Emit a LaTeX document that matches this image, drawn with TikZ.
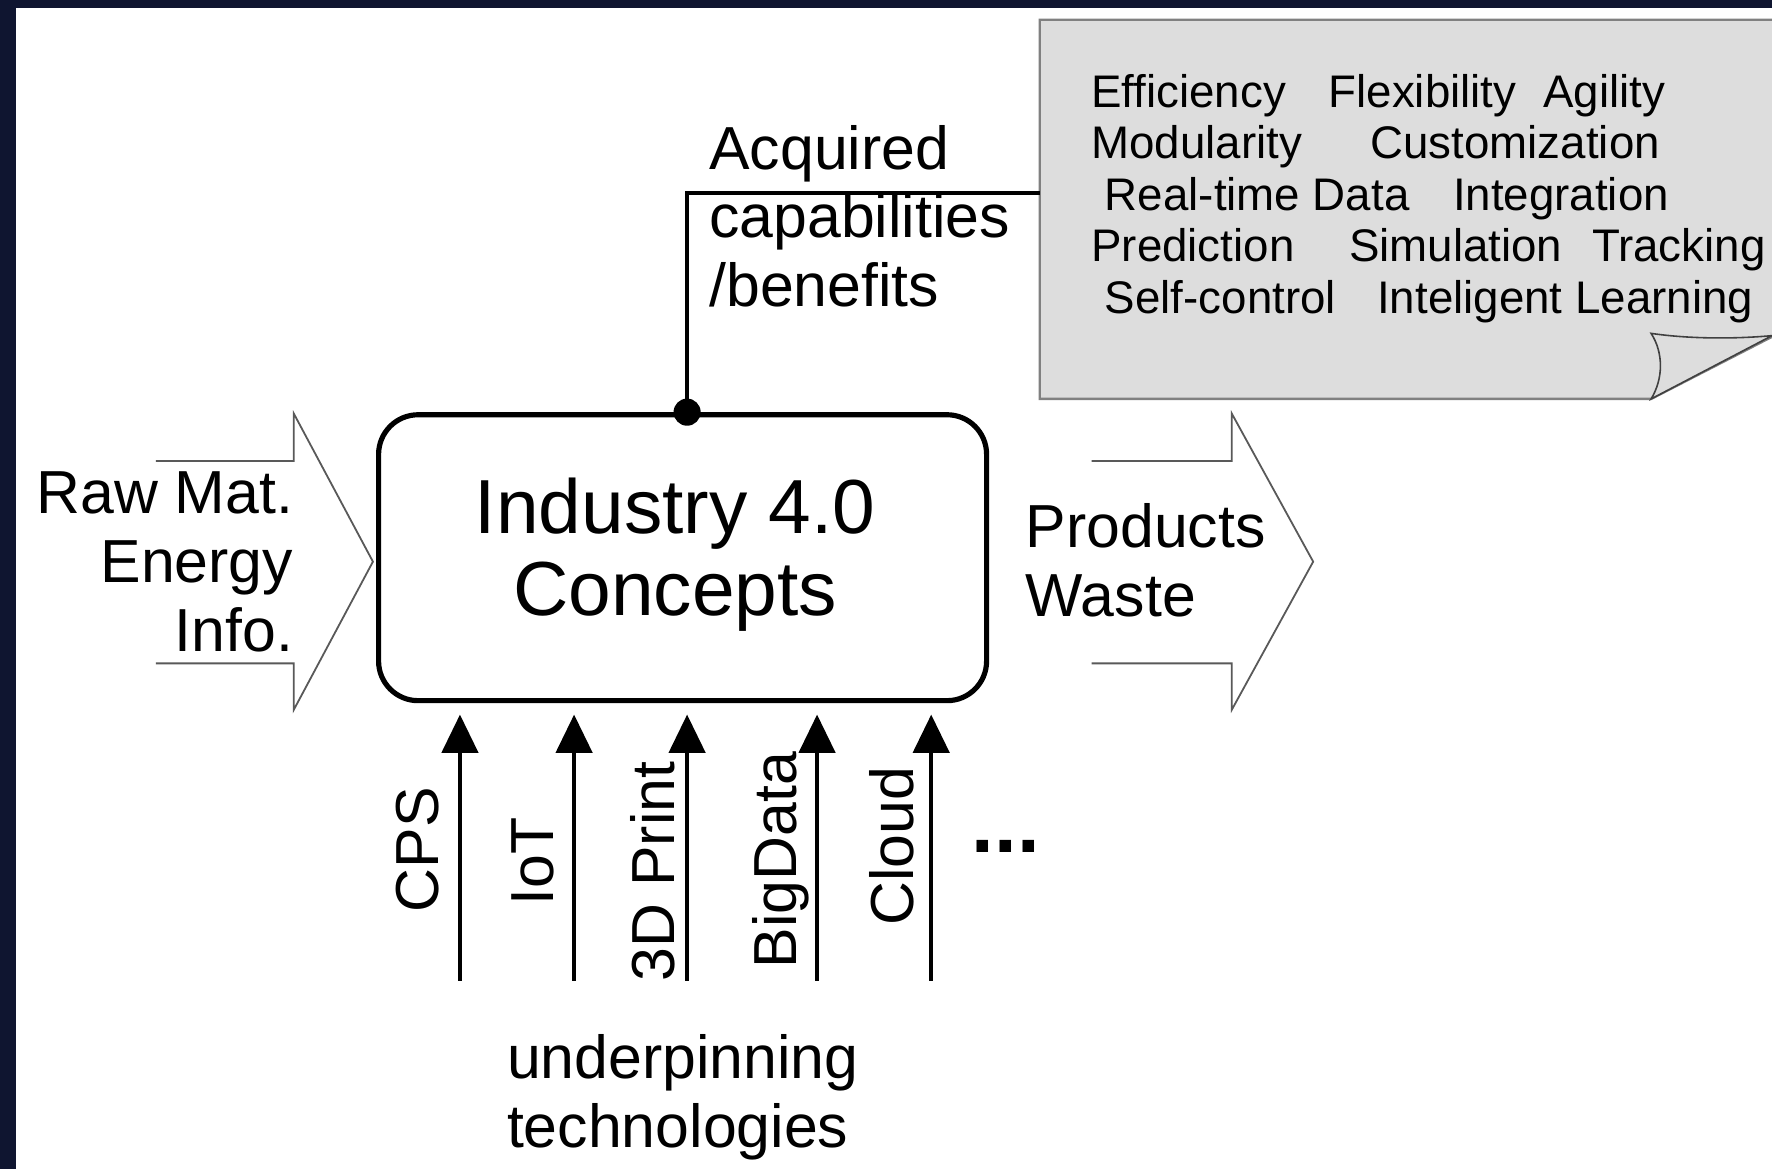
\documentclass[tikz,border=0pt]{standalone}
\usepackage{fontspec}
\setmainfont{Liberation Sans}
\usetikzlibrary{arrows.meta}

\definecolor{framenavy}{HTML}{0F1530}
\definecolor{notegray}{HTML}{DDDDDD}
\definecolor{noteline}{HTML}{808080}

\tikzset{
  bigtext/.style={font=\fontsize{15.3}{17.3}\selectfont, inner sep=0pt},
  boxword/.style={font=\fontsize{11.5}{13}\selectfont, inner sep=0pt, anchor=base west},
  blockarrow/.style={draw=black!65, line width=0.45pt},
  techarrow/.style={line width=1.1pt, -{Triangle[width=3.2mm,length=3.4mm]}, shorten >=1mm},
}

\begin{document}
\begin{tikzpicture}
    \useasboundingbox (0,0) rectangle (15.68,-10.34);
    \fill[framenavy] (0,0) rectangle (15.68,-10.34);
    \fill[white] (0.142,-0.071) rectangle (15.68,-10.34);

    % note with folded corner
    \fill[notegray] (9.20,-0.175) -- (15.68,-0.175) -- (15.68,-2.98) -- (14.61,-3.53) -- (9.20,-3.53) -- cycle;
    \draw[noteline, line width=0.6pt] (15.70,-0.175) -- (9.20,-0.175) -- (9.20,-3.53) -- (14.61,-3.53) -- (15.68,-2.98);
    \filldraw[fill=notegray, draw=black!75, line width=0.4pt] (14.61,-3.53) .. controls (14.72,-3.35) and (14.72,-3.12) .. (14.61,-2.95) .. controls (14.95,-3.00) and (15.35,-3.00) .. (15.68,-2.97) -- cycle;
    \coordinate (noteW) at (9.20,-1.705);
    \foreach \x/\y/\w [count=\i] in {
        9.65/0.95/Efficiency, 11.75/0.95/Flexibility, 13.65/0.95/Agility,
        9.65/1.40/Modularity, 12.12/1.40/Customization,
        9.77/1.86/Real-time Data, 12.85/1.86/Integration,
        9.65/2.316/Prediction, 11.93/2.316/Simulation, 14.08/2.316/Tracking,
        9.77/2.77/Self-control, 12.18/2.77/Inteligent Learning}
        \node[boxword] (word\i) at (\x,-\y) {\w};

    % main block
    \node[draw, line width=1.3pt, rounded corners=0.35cm, minimum width=5.38cm, minimum height=2.53cm] (box) at (6.04,-4.935) {};
    \node[align=center, inner sep=0pt, font=\fontsize{19.3}{20.5}\selectfont] (boxtitle) at (5.975,-4.91) {Industry 4.0\\Concepts};

    % acquired capabilities
    \coordinate (tap) at ([xshift=0.4mm]box.north);
    \draw[line width=1pt] (tap) |- (noteW);
    \fill (tap) circle (0.12);
    \node[bigtext, align=left, anchor=north west] (acq) at (6.27,-1.10) {Acquired\\capabilities\\/benefits};

    % inputs and outputs
    \draw[blockarrow] (1.38,-4.08) -- (2.60,-4.08) -- (2.60,-3.66) -- (3.30,-4.97) -- (2.60,-6.28) -- (2.60,-5.87) -- (1.38,-5.87);
    \node[bigtext, align=right, anchor=north east] (inputs) at (2.60,-4.17) {Raw Mat.\\Energy\\Info.};
    \draw[blockarrow] (9.66,-4.08) -- (10.90,-4.08) -- (10.90,-3.66) -- (11.62,-4.97) -- (10.90,-6.28) -- (10.90,-5.87) -- (9.66,-5.87);
    \node[bigtext, align=left, anchor=north west] (outputs) at (9.07,-4.45) {Products\\Waste};

    % technologies
    \foreach \x/\lx/\ly/\t [count=\i] in {4.07/3.88/7.52/CPS, 5.08/4.90/7.62/IoT, 6.08/5.97/7.71/3D Print,
                                          7.23/7.05/7.61/BigData, 8.24/8.08/7.49/Cloud} {
        \coordinate (tech\i) at (\x,-8.68);
        \draw[techarrow] (tech\i) -- (tech\i |- box.south);
        \node[bigtext, rotate=90, anchor=base] (techlabel\i) at (\lx,-\ly) {\t};
    }
    \node[font=\fontsize{20.5}{21}\selectfont\bfseries, inner sep=0pt, anchor=base] (more) at (8.90,-7.54) {...};
    \node[bigtext, align=left, anchor=north west] (under) at (4.48,-9.15) {underpinning\\technologies};
\end{tikzpicture}
\end{document}
